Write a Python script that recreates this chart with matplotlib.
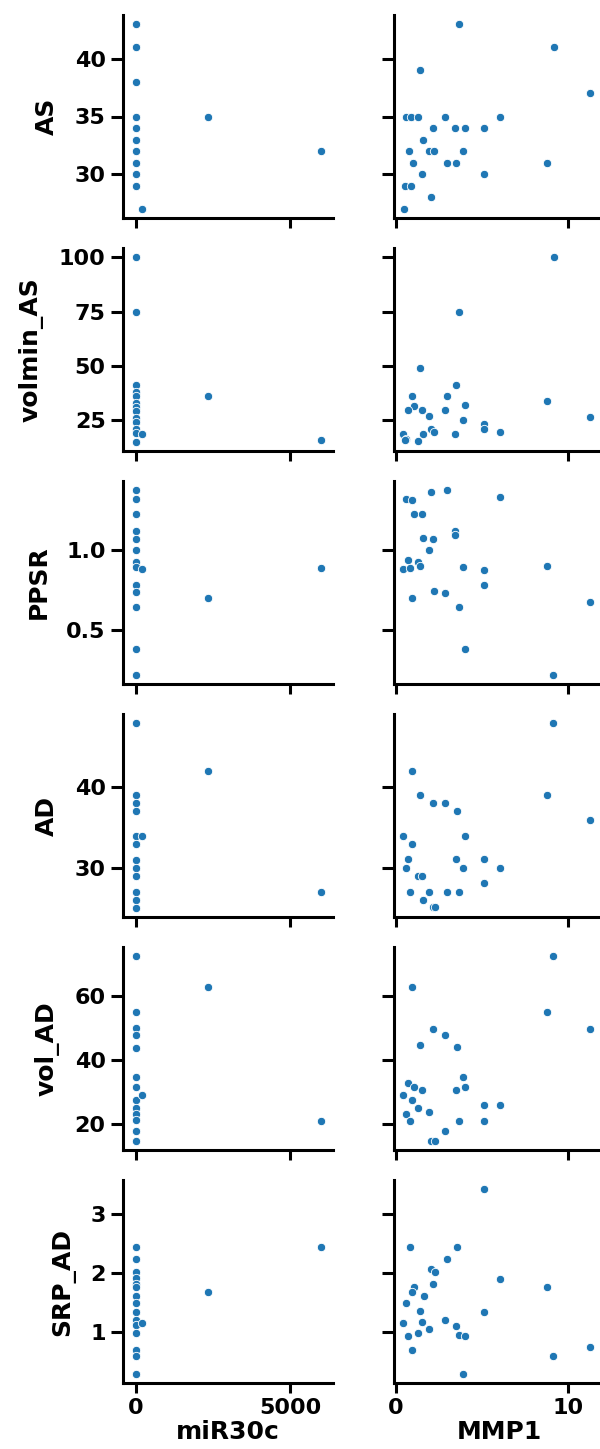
import matplotlib.pyplot as plt

# pair grid: miR30c / MMP1 (x) against six measures (y)
x_vars = ["miR30c", "MMP1"]
y_vars = ["AS", "volmin_AS", "PPSR", "AD", "vol_AD", "SRP_AD"]

# left column: miR30c values and the matching y values
as_mir = [0, 0, 0, 0, 0, 0, 0, 0, 0, 0, 210, 2340, 6000]
as_left = [43, 41, 38, 35, 34, 33, 32, 31, 30, 29, 27, 35, 32]

volmin_mir = [0, 0, 0, 0, 0, 0, 0, 0, 0, 0, 0, 0, 0, 210, 2340, 6000]
volmin_left = [100, 75, 41, 38, 36, 33, 31, 29, 26, 24, 21, 19, 15, 18.7, 36, 16]

ppsr_mir = [0, 0, 0, 0, 0, 0, 0, 0, 0, 0, 0, 0, 0, 210, 2340, 6000]
ppsr_left = [1.377, 1.32, 1.227, 1.123, 1.07, 1.0, 0.928, 0.894, 0.78, 0.737,
             0.646, 0.381, 0.218, 0.88, 0.70, 0.886]

ad_mir = [0, 0, 0, 0, 0, 0, 0, 0, 0, 0, 0, 0, 210, 2340, 6000]
ad_left = [48, 39, 38, 37, 34, 33, 31, 30, 29, 27, 26, 25, 34, 42, 27]

volad_mir = [0, 0, 0, 0, 0, 0, 0, 0, 0, 0, 0, 0, 0, 210, 2340, 6000]
volad_left = [72.5, 55, 50, 48, 44, 34.7, 31.7, 27.6, 25.2, 23.2, 21.3, 18.1,
              14.9, 29.2, 63, 21]

srp_mir = [0, 0, 0, 0, 0, 0, 0, 0, 0, 0, 0, 0, 0, 0, 0, 210, 2340, 6000]
srp_left = [2.44, 2.24, 2.02, 1.91, 1.81, 1.76, 1.60, 1.49, 1.33, 1.19, 1.11,
            0.97, 0.69, 0.59, 0.28, 1.14, 1.68, 2.44]

# right column: MMP1 values and the matching y values
as_mmp1 = [3.7, 9.2, 1.43, 11.26, 0.62, 0.88, 1.32, 2.87, 6.07, 2.16, 3.47, 4.02,
           5.14, 1.61, 0.79, 1.94, 2.25, 3.91, 0.99, 2.98, 3.53, 8.79, 1.55, 5.14,
           0.55, 0.88, 2.05, 0.49]
as_right = [43, 41, 39, 37, 35, 35, 35, 35, 35, 34, 34, 34, 34, 33, 32, 32, 32, 32,
            31, 31, 31, 31, 30, 30, 29, 29, 28, 27]

volmin_mmp1 = [9.2, 3.7, 1.43, 3.53, 0.93, 2.98, 8.79, 4.02, 1.04, 0.71, 1.55, 2.87,
               1.94, 11.26, 3.91, 5.14, 5.14, 2.05, 2.25, 6.07, 0.44, 1.61, 3.47,
               0.62, 1.32, 0.55]
volmin_right = [100, 75, 49, 41.2, 36.2, 36.2, 34, 32, 31.5, 29.5, 29.5, 29.5, 26.8,
                26.4, 25, 23.2, 21, 21, 19.3, 19.3, 18.6, 18.6, 18.6, 16.2, 15.4, 16]

ppsr_mmp1 = [0.62, 0.95, 2.07, 2.98, 6.07, 1.04, 1.55, 3.47, 3.42, 1.61, 2.16, 1.94,
             0.71, 1.32, 1.43, 0.44, 0.82, 3.91, 5.14, 8.79, 5.14, 2.25, 2.87, 0.93,
             3.7, 11.26, 4.02, 9.16]
ppsr_right = [1.322, 1.314, 1.369, 1.377, 1.333, 1.227, 1.227, 1.123, 1.097, 1.078,
              1.07, 1.0, 0.936, 0.928, 0.90, 0.88, 0.886, 0.894, 0.875, 0.903, 0.78,
              0.742, 0.733, 0.70, 0.646, 0.674, 0.381, 0.218]

ad_mmp1 = [9.16, 0.93, 1.43, 8.79, 2.16, 2.87, 3.58, 11.26, 0.44, 4.02, 0.93, 0.71,
           3.53, 5.14, 0.6, 3.91, 6.07, 1.28, 1.5, 5.14, 0.82, 1.94, 2.98, 3.7, 1.61,
           2.16, 2.3]
ad_right = [48, 42.1, 39.1, 39.1, 38, 38, 37, 36, 34, 34, 33, 31.1, 31.1, 31.1, 30,
            30, 30, 29, 29, 28.1, 27, 27, 27, 27, 26, 25.1, 25.1]

volad_mmp1 = [9.16, 0.93, 8.79, 2.16, 11.26, 2.87, 1.43, 3.58, 3.91, 0.71, 1.04, 1.55,
              3.53, 4.02, 0.44, 0.93, 1.32, 1.94, 5.14, 6.07, 0.6, 0.82, 3.7, 5.14,
              2.87, 2.07, 2.3]
volad_right = [72.5, 63, 55, 49.7, 49.7, 48, 44.8, 44.1, 34.7, 32.9, 31.7, 30.8, 30.8,
               31.7, 29.2, 27.6, 25, 23.9, 26, 26, 23.2, 21, 21, 21, 18, 14.9, 14.9]

srp_mmp1 = [5.14, 0.82, 3.58, 2.98, 2.05, 2.27, 6.07, 2.16, 8.79, 1.04, 0.93, 1.66,
            0.6, 1.43, 5.14, 2.87, 1.55, 0.44, 3.49, 1.94, 1.32, 3.7, 4.02, 0.71, 0.93,
            11.26, 9.16, 3.91]
srp_right = [3.43, 2.44, 2.44, 2.24, 2.07, 2.02, 1.90, 1.81, 1.76, 1.76, 1.68, 1.60,
             1.49, 1.35, 1.33, 1.19, 1.16, 1.14, 1.09, 1.05, 0.97, 0.95, 0.93, 0.92,
             0.69, 0.73, 0.59, 0.28]

left_x = [as_mir, volmin_mir, ppsr_mir, ad_mir, volad_mir, srp_mir]
left_y = [as_left, volmin_left, ppsr_left, ad_left, volad_left, srp_left]
right_x = [as_mmp1, volmin_mmp1, ppsr_mmp1, ad_mmp1, volad_mmp1, srp_mmp1]
right_y = [as_right, volmin_right, ppsr_right, ad_right, volad_right, srp_right]

y_ticks = [[30, 35, 40], [25, 50, 75, 100], [0.5, 1.0], [30, 40], [20, 40, 60], [1, 2, 3]]

plt.rcParams["font.family"] = ["DejaVu Sans"]
plt.rcParams["font.weight"] = "bold"
plt.rcParams["axes.labelweight"] = "bold"

W, H = 600, 1449
fig = plt.figure(figsize=(W / 100, H / 100), dpi=100)

col_left = [123, 394]
col_w = 210
row_top = 15
row_h = 203
row_step = 233
dot_color = "#1f77b4"

for i, yv in enumerate(y_vars):
    top = row_top + i * row_step
    rect = lambda j: [col_left[j] / W, 1 - (top + row_h) / H, col_w / W, row_h / H]
    ax_l = fig.add_axes(rect(0))
    ax_r = fig.add_axes(rect(1), sharey=ax_l)
    ax_l.scatter(left_x[i], left_y[i], s=36, color=dot_color, edgecolor="white",
                 linewidth=0.6, zorder=3)
    ax_r.scatter(right_x[i], right_y[i], s=36, color=dot_color, edgecolor="white",
                 linewidth=0.6, zorder=3)

    for j, ax in enumerate([ax_l, ax_r]):
        for side in ["top", "right"]:
            ax.spines[side].set_visible(False)
        for side in ["left", "bottom"]:
            ax.spines[side].set_linewidth(2.2)
        ax.tick_params(axis="y", length=9, width=2.2, labelsize=16)
        ax.tick_params(axis="x", length=7, width=2.2, labelsize=16)
        if i < len(y_vars) - 1:
            ax.tick_params(axis="x", labelbottom=False)
        else:
            ax.set_xlabel(x_vars[j], fontsize=18, labelpad=2)

    ax_l.margins(y=0.05)
    ax_l.set_yticks(y_ticks[i])
    ax_l.set_ylabel(yv, fontsize=18, labelpad=11)
    ax_l.set_xlim(-420, 6400)
    ax_l.set_xticks([0, 5000])
    ax_r.set_xlim(-0.1, 12.1)
    ax_r.set_xticks([0, 10])
    ax_r.tick_params(axis="y", labelleft=False)

fig.savefig("out.png", dpi=100)
